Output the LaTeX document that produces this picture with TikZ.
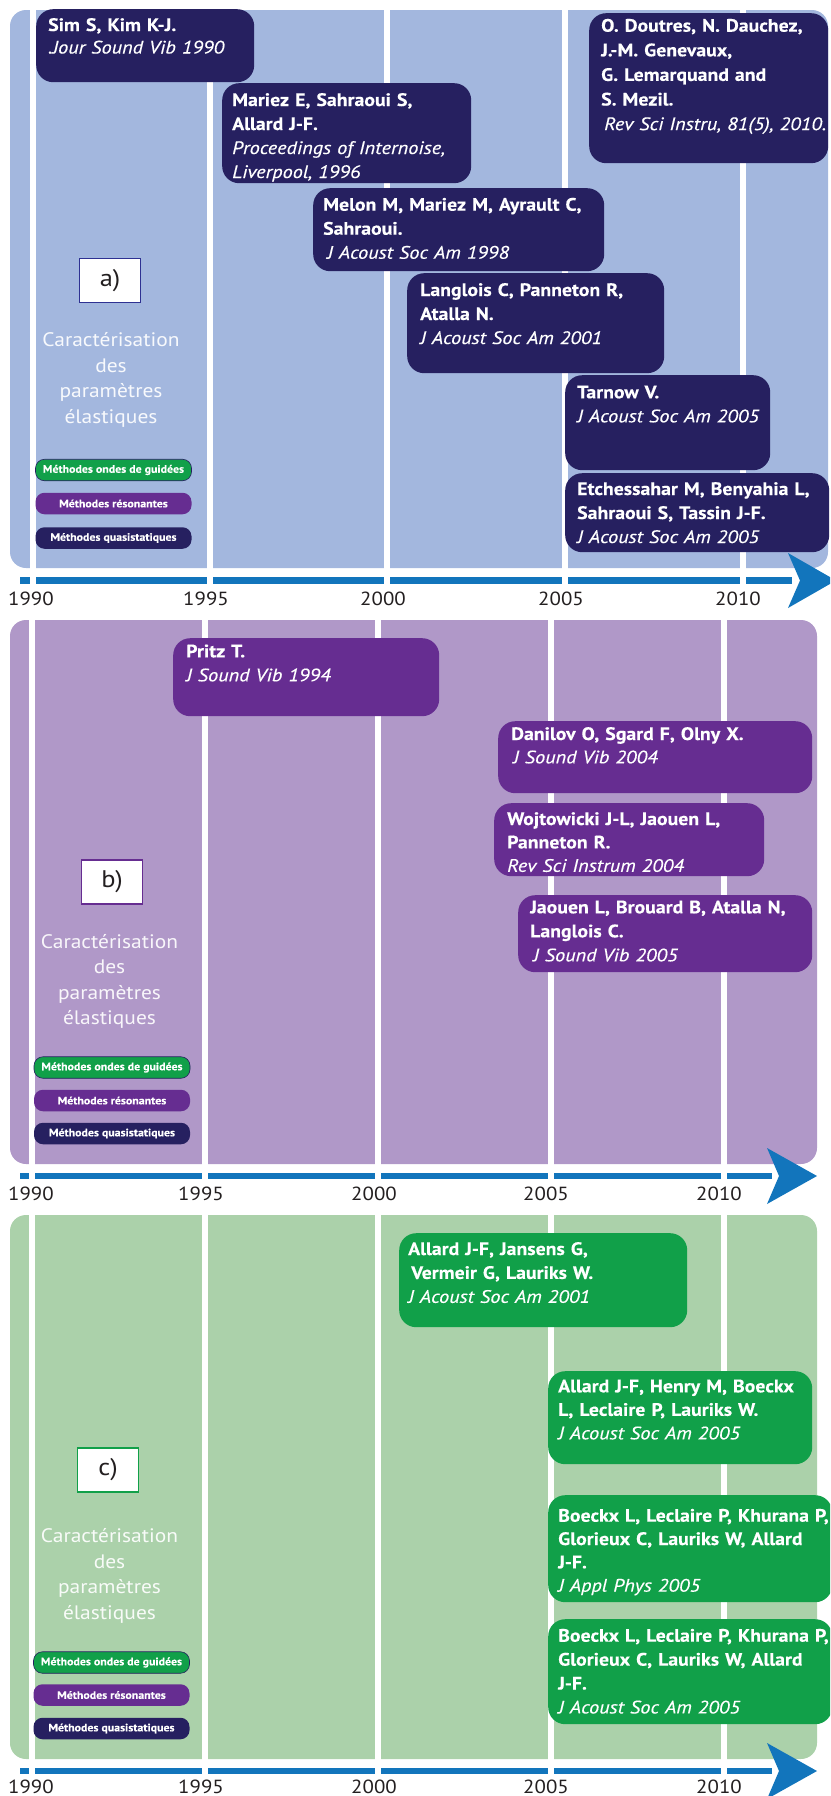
\documentclass[tikz,border=0pt]{standalone}
\usepackage{fontspec}
\setmainfont{PT Sans}[ItalicFeatures={FakeStretch=1.13,FakeBold=0.3},BoldFeatures={FakeStretch=1.10,FakeBold=0.25}]
\newfontfamily\capfont{PT Sans}[FakeStretch=1.1]
\definecolor{bgA}{RGB}{163,183,222}
\definecolor{bgB}{RGB}{176,152,200}
\definecolor{bgC}{RGB}{171,209,170}
\definecolor{navyM}{RGB}{38,32,96}
\definecolor{purpleM}{RGB}{102,45,145}
\definecolor{greenM}{RGB}{17,160,73}
\definecolor{barblue}{RGB}{18,117,188}
\definecolor{yeargray}{RGB}{35,31,32}
\definecolor{lblnavy}{RGB}{46,49,146}
\begin{document}
\begin{tikzpicture}[x=1pt,y=-1pt,
  panel/.style={fill=#1, rounded corners=16pt},
  refbox/.style={fill=#1, rounded corners=17pt, inner sep=0pt, anchor=north west, draw=none},
  reftext/.style={text=white, inner sep=0pt, anchor=base west, text width=320pt, align=left,
                  font=\fontsize{18}{24}\selectfont},
  caption/.style={text=white, text opacity=0.92, inner sep=0pt, anchor=base, text width=180pt, align=center,
                  font=\capfont\fontsize{19.5}{25.5}\selectfont},
  pill/.style={fill=#1, rounded corners=9pt, minimum width=156pt, minimum height=21.5pt, inner sep=0pt,
               text=white, font=\fontsize{10.8}{13}\selectfont\bfseries},
  lblbox/.style={fill=white, draw=#1, line width=1.3pt, minimum width=61pt, minimum height=44pt, inner sep=0pt,
                 text=yeargray, font=\capfont\fontsize{24}{28}\selectfont},
  year/.style={text=yeargray, inner sep=0pt, anchor=base, font=\capfont\fontsize{19}{22}\selectfont},
  sep/.style={fill=white}
]
\useasboundingbox (0,0) rectangle (830,1796);
\clip (0,0) rectangle (830,1796);

% ================= Panel a =================
\fill[panel=bgA] (10,10) rectangle (828,568);
\fill[barblue] (20,577) rectangle (792,584);
\fill[barblue] (788,553) -- (836,580.5) -- (788,608) -- (800,580.5) -- cycle;
\foreach \xx in {32.5,210,387,565,743} { \fill[sep] (\xx-3,0) rectangle (\xx+3,587); }

\node[refbox=navyM, minimum width=218pt, minimum height=73pt] (a1) at (36,9) {};
\node[reftext, font=\fontsize{18}{22.5}\selectfont] (a1t) at (48,31) {\textbf{Sim S, Kim K-J.}\\\textit{.Jour Sound Vib 1990}};

\node[refbox=navyM, minimum width=249pt, minimum height=100pt] (a2) at (222,83) {};
\node[reftext] (a2t) at (232,106) {\textbf{Mariez E, Sahraoui S,}\\\textbf{Allard J-F.}\\\textit{Proceedings of Internoise,}\\\textit{Liverpool, 1996}};

\node[refbox=navyM, minimum width=291pt, minimum height=83pt] (a3) at (313,188) {};
\node[reftext] (a3t) at (323,210.7) {\textbf{Melon M, Mariez M, Ayrault C,}\\\textbf{Sahraoui.}\\\hspace*{4pt}\textit{J Acoust Soc Am 1998}};

\node[refbox=navyM, minimum width=257pt, minimum height=100pt] (a4) at (407,273) {};
\node[reftext] (a4t) at (420,296) {\textbf{Langlois C, Panneton R,}\\\textbf{Atalla N.}\\\textit{J Acoust Soc Am 2001}};

\node[refbox=navyM, minimum width=205pt, minimum height=95pt] (a5) at (565,375) {};
\node[reftext] (a5t) at (577,398.3) {\textbf{Tarnow V.}\\\textit{J Acoust Soc Am 2005}};

\node[refbox=navyM, minimum width=264pt, minimum height=79pt] (a6) at (565,473) {};
\node[reftext] (a6t) at (577,495) {\textbf{Etchessahar M, Benyahia L,}\\\textbf{Sahraoui S, Tassin J-F.}\\\textit{J Acoust Soc Am 2005}};

\node[refbox=navyM, minimum width=239pt, minimum height=150pt] (a7) at (589,13) {};
\node[reftext, font=\fontsize{18}{24.6}\selectfont] (a7t) at (601,31.7) {\textbf{O. Doutres, N. Dauchez,}\\\textbf{J.-M. Genevaux,}\\\textbf{G. Lemarquand and}\\\textbf{S. Mezil.}\\\hspace*{3pt}\textit{Rev Sci Instru, 81(5), 2010.}};

\node[lblbox=lblnavy] (la) at (110,280.5) {a)};
\node[caption] (capa) at (111,346.7) {Caractérisation\\des\\paramètres\\élastiques};
\node[pill=greenM, draw=navyM, line width=0.6pt] (ga) at (113.5,470) {Méthodes ondes de guidées};
\node[pill=purpleM] (pa) at (113.5,503.5) {Méthodes résonantes};
\node[pill=navyM] (na) at (113.5,538) {Méthodes quasistatiques};

\node[year] (ya1) at (31,605) {1990};
\node[year] (ya2) at (206,605) {1995};
\node[year] (ya3) at (383,605) {2000};
\node[year] (ya4) at (561,605) {2005};
\node[year] (ya5) at (738,605) {2010};

% ================= Panel b =================
\fill[panel=bgB] (10,620) rectangle (817,1164);
\fill[barblue] (20,1173) rectangle (772,1179);
\fill[barblue] (767,1148) -- (817,1176) -- (767,1204) -- (779,1176) -- cycle;
\foreach \xx in {32,205,378,551,724} { \fill[sep] (\xx-3,620) rectangle (\xx+3,1181); }

\node[refbox=purpleM, minimum width=266pt, minimum height=78pt] (b1) at (173,638) {};
\node[reftext] (b1t) at (186,657.3) {\textbf{Pritz T.}\\\textit{J Sound Vib 1994}};

\node[refbox=purpleM, minimum width=314pt, minimum height=72pt] (b2) at (498,721) {};
\node[reftext, font=\fontsize{18}{23.3}\selectfont] (b2t) at (511,740) {\textbf{Danilov O, Sgard F, Olny X.}\\\hspace*{2pt}\textit{J Sound Vib 2004}};

\node[refbox=purpleM, minimum width=270pt, minimum height=73pt] (b3) at (494,803) {};
\node[reftext, font=\fontsize{18}{23.4}\selectfont] (b3t) at (507,825) {\textbf{Wojtowicki J-L, Jaouen L,}\\\textbf{Panneton R.}\\\textit{Rev Sci Instrum 2004}};

\node[refbox=purpleM, minimum width=294pt, minimum height=77pt] (b4) at (518,895) {};
\node[reftext] (b4t) at (530,913.3) {\textbf{Jaouen L, Brouard B, Atalla N,}\\\textbf{Langlois C.}\\\hspace*{3pt}\textit{J Sound Vib 2005}};

\node[lblbox=purpleM] (lb) at (112,882) {b)};
\node[caption] (capb) at (109.5,948.3) {Caractérisation\\des\\paramètres\\élastiques};
\node[pill=greenM, draw=navyM, line width=0.6pt] (gb) at (112,1067.5) {Méthodes ondes de guidées};
\node[pill=purpleM] (pb) at (112,1100.5) {Méthodes résonantes};
\node[pill=navyM] (nb) at (112,1133.5) {Méthodes quasistatiques};

\node[year] (yb1) at (31,1200) {1990};
\node[year] (yb2) at (201,1200) {1995};
\node[year] (yb3) at (374,1200) {2000};
\node[year] (yb4) at (546,1200) {2005};
\node[year] (yb5) at (719,1200) {2010};

% ================= Panel c =================
\fill[panel=bgC] (10,1215) rectangle (817,1759);
\fill[barblue] (20,1768) rectangle (772,1774);
\fill[barblue] (767,1743) -- (817,1771) -- (767,1799) -- (779,1771) -- cycle;
\foreach \xx in {32,205,378,551,724} { \fill[sep] (\xx-3,1215) rectangle (\xx+3,1776); }

\node[refbox=greenM, minimum width=288pt, minimum height=94pt] (c1) at (399,1233) {};
\node[reftext, font=\fontsize{18}{23.9}\selectfont] (c1t) at (408,1255) {\textbf{Allard J-F, Jansens G,}\\\hspace*{3pt}\textbf{Vermeir G, Lauriks W.}\\\textit{J Acoust Soc Am 2001}};

\node[refbox=greenM, minimum width=264pt, minimum height=93pt] (c2) at (548,1371) {};
\node[reftext, font=\fontsize{18}{23.5}\selectfont] (c2t) at (558,1392.3) {\textbf{Allard J-F, Henry M, Boeckx}\\\textbf{L, Leclaire P, Lauriks W.}\\\textit{J Acoust Soc Am 2005}};

\node[refbox=greenM, minimum width=284pt, minimum height=107pt] (c3) at (548,1495) {};
\node[reftext, font=\fontsize{18}{23.3}\selectfont] (c3t) at (558,1521.7) {\textbf{Boeckx L, Leclaire P, Khurana P,}\\\textbf{Glorieux C, Lauriks W, Allard}\\\textbf{J-F.}\\\textit{J Appl Phys 2005}};

\node[refbox=greenM, minimum width=284pt, minimum height=105pt] (c4) at (548,1619) {};
\node[reftext, font=\fontsize{18}{23.9}\selectfont] (c4t) at (558,1641.7) {\textbf{Boeckx L, Leclaire P, Khurana P,}\\\textbf{Glorieux C, Lauriks W, Allard}\\\textbf{J-F.}\\\textit{J Acoust Soc Am 2005}};

\node[lblbox=greenM] (lc) at (108,1470) {c)};
\node[caption] (capc) at (109.5,1542.7) {Caractérisation\\des\\paramètres\\élastiques};
\node[pill=greenM, draw=navyM, line width=0.6pt] (gc) at (111.5,1662.5) {Méthodes ondes de guidées};
\node[pill=purpleM] (pc) at (111.5,1695) {Méthodes résonantes};
\node[pill=navyM] (nc) at (111.5,1728.5) {Méthodes quasistatiques};

\node[year] (yc1) at (31,1793.5) {1990};
\node[year] (yc2) at (201,1793.5) {1995};
\node[year] (yc3) at (374,1793.5) {2000};
\node[year] (yc4) at (546,1793.5) {2005};
\node[year] (yc5) at (719,1793.5) {2010};
\end{tikzpicture}
\end{document}
